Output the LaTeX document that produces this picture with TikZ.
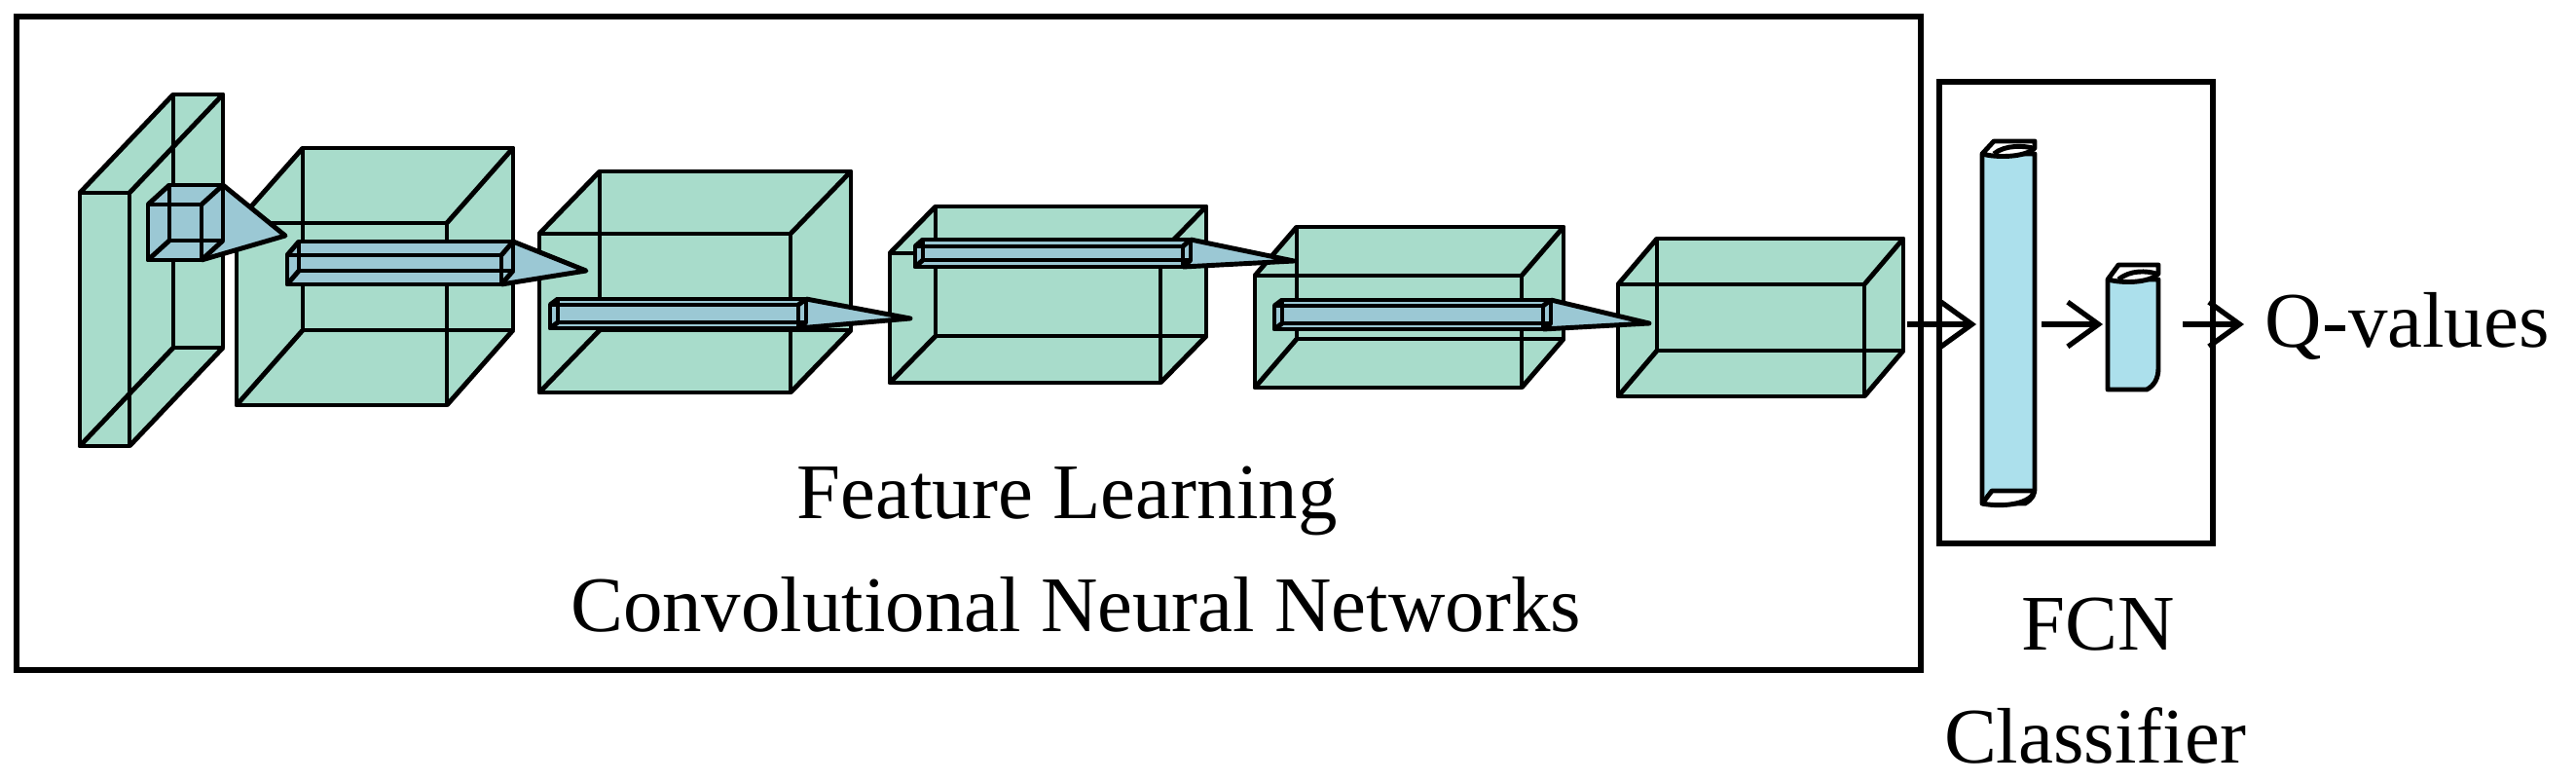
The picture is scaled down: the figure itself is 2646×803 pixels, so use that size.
\documentclass[tikz,border=0pt]{standalone}
\usepackage{fontspec}
\setmainfont{Liberation Serif}
\usetikzlibrary{arrows.meta}
\definecolor{cg}{RGB}{168,220,203}
\definecolor{kb}{RGB}{155,200,212}
\definecolor{fb}{RGB}{172,224,236}
\newcommand{\cubFill}[7]{\fill[#7] (#1,#4) -- (#1,#2) -- (#1+#5,#2+#6) -- (#3+#5,#2+#6) -- (#3+#5,#4+#6) -- (#3,#4) -- cycle;}
\newcommand{\cubLines}[6]{\draw[ln] (#1,#2) rectangle (#3,#4);
  \draw[ln] (#1+#5,#2+#6) rectangle (#3+#5,#4+#6);
  \draw[ln] (#1,#2) -- (#1+#5,#2+#6) (#3,#2) -- (#3+#5,#2+#6) (#1,#4) -- (#1+#5,#4+#6) (#3,#4) -- (#3+#5,#4+#6);}
\newcommand{\kernbar}[8]{\cubFill{#1}{#2}{#3}{#4}{#5}{#6}{kb}
  \fill[kb] (#3,#2) -- (#3+#5,#2+#6) -- (#7,#8) -- (#3,#4) -- cycle;
  \cubLines{#1}{#2}{#3}{#4}{#5}{#6}
  \draw[ln] (#3+#5,#2+#6) -- (#7,#8) -- (#3,#4);}
\begin{document}
\begin{tikzpicture}[x=0.01cm,y=-0.01cm,
  ln/.style={line width=1.4pt,line join=round},
  lbl/.style={font=\fontsize{23}{27}\selectfont,inner sep=0pt},
  arr/.style={line width=1.5pt,-{Straight Barb[length=9pt,width=13pt,line width=1.5pt]}}]
\useasboundingbox (0,0) rectangle (2646,803);
% frames
\draw[line width=1.8pt] (17,17) rectangle (1973,688);
\draw[line width=1.8pt] (1992,84) rectangle (2273,558);
% cuboid fills
\cubFill{82}{198}{133}{458}{96}{-101}{cg}
\cubFill{243}{229}{459}{416}{68}{-77}{cg}
\cubFill{554}{240}{812}{403}{62}{-64}{cg}
\cubFill{914}{260}{1192}{393}{47}{-48}{cg}
\cubFill{1289}{283}{1563}{398}{43}{-50}{cg}
\cubFill{1662}{292}{1915}{407}{40}{-47}{cg}
% cuboid lines
\cubLines{82}{198}{133}{458}{96}{-101}
\cubLines{243}{229}{459}{416}{68}{-77}
\cubLines{554}{240}{812}{403}{62}{-64}
\cubLines{914}{260}{1192}{393}{47}{-48}
\cubLines{1289}{283}{1563}{398}{43}{-50}
\cubLines{1662}{292}{1915}{407}{40}{-47}
% kernels
\kernbar{152}{210}{207}{267}{22}{-20}{293}{242}
\kernbar{295}{262}{515}{292}{12}{-14}{602}{278}
\kernbar{565}{313}{820}{337}{8}{-6}{935}{327}
\kernbar{940}{253}{1215}{274}{8}{-7}{1329}{268}
\kernbar{1309}{314}{1585}{338}{8}{-6}{1694}{332}
% FCN layers
\filldraw[fill=fb,ln] (2036,158) -- (2036,517) -- (2080,517) .. controls (2088,512) and (2090,508) .. (2090,500) -- (2090,158) -- cycle;
\filldraw[fill=white,ln] (2036,158) -- (2048,145) -- (2090,145) -- (2090,152) .. controls (2080,162) and (2050,162) .. (2036,158);
\draw[ln] (2048,158) .. controls (2060,148) and (2080,150) .. (2088,152);
\filldraw[fill=white,ln] (2036,517) -- (2046,504) -- (2088,504) -- (2088,508) .. controls (2078,520) and (2050,520) .. (2036,517);
\filldraw[fill=fb,ln] (2165,287) -- (2165,400) -- (2205,400) .. controls (2213,396) and (2217,388) .. (2217,378) -- (2217,287) -- cycle;
\filldraw[fill=white,ln] (2165,287) -- (2176,272) -- (2217,272) -- (2217,281) .. controls (2207,291) and (2180,291) .. (2165,287);
\draw[ln] (2176,287) .. controls (2188,277) and (2205,278) .. (2215,281);
% nodes
\coordinate (c6) at (1959,333);
\coordinate (f1in) at (2030,333);
\coordinate (f1out) at (2097,333);
\coordinate (f2in) at (2160,333);
\coordinate (f2out) at (2242,333);
\coordinate (qin) at (2305,333);
\node[lbl,anchor=west] (q) at (2326,335) {Q-values};
\draw[arr] (c6) -- (f1in);
\draw[arr] (f1out) -- (f2in);
\draw[arr] (f2out) -- (qin);
\node[lbl,anchor=base] (fl) at (1096,532) {Feature Learning};
\node[lbl,anchor=base] (cnn) at (1105,648) {Convolutional Neural Networks};
\node[lbl,anchor=base] (fcn) at (2155,667) {FCN};
\node[lbl,anchor=base] (cls) at (2152,783) {Classifier};
\end{tikzpicture}
\end{document}
